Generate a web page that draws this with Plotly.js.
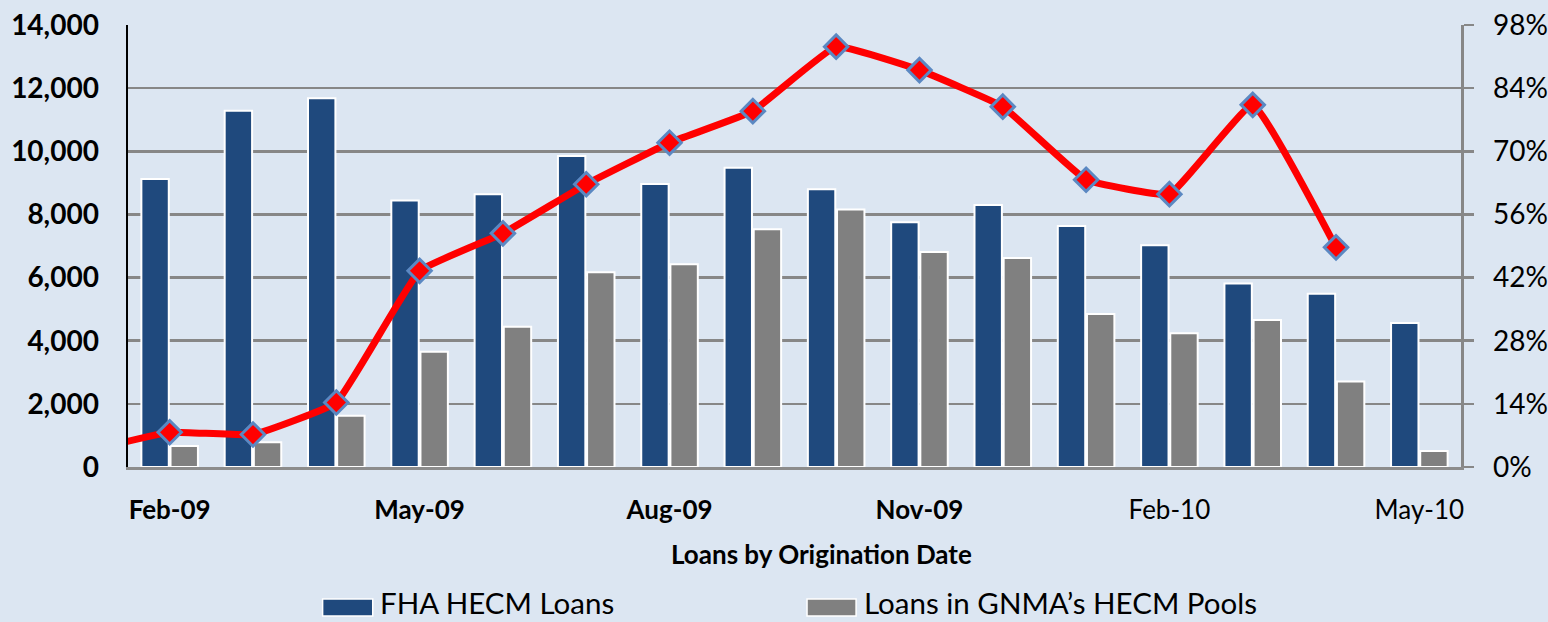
<!DOCTYPE html>
<html>
<head>
<meta charset="utf-8">
<script src="https://cdn.plot.ly/plotly-3.0.1.min.js"></script>
<style>
  html, body { margin: 0; padding: 0; background: #dce6f2; }
  #chart { width: 1548px; height: 622px; }
</style>
</head>
<body>
<div id="chart"></div>
<script>
// ---- data ----
var months = ['Feb-09','Mar-09','Apr-09','May-09','Jun-09','Jul-09','Aug-09','Sep-09',
              'Oct-09','Nov-09','Dec-09','Jan-10','Feb-10','Mar-10','Apr-10','May-10'];
var fhaLoans  = [9120, 11280, 11680, 8440, 8640, 9850, 8960, 9480,
                 8800, 7750, 8300, 7630, 7025, 5810, 5490, 4560];
var gnmaPools = [665, 780, 1625, 3650, 4440, 6170, 6420, 7530,
                 8160, 6810, 6620, 4850, 4240, 4660, 2710, 510];
// share of loans pooled (%), last month not reported
var pooledPct = [7.7, 7.2, 14.3, 43.5, 51.8, 62.7, 71.9, 78.9,
                 93.2, 88.0, 79.9, 63.7, 60.5, 80.3, 48.7, null];
// preceding month (outside the visible range) that the line comes in from
var priorMonth = 'Jan-09';
var priorPct = 3.5;
var tickLabels = ['Feb-09','May-09','Aug-09','Nov-09','Feb-10','May-10'];
var seriesNames = ['FHA HECM Loans', 'Loans in GNMA\u2019s HECM Pools', 'Share pooled'];
var leftTicks = [0, 2000, 4000, 6000, 8000, 10000, 12000, 14000];
var rightTicks = [0, 14, 28, 42, 56, 70, 84, 98];

// ---- styles ----
var tickBold = [true, true, true, true, false, false];
var FONT = 'Lato, "Open Sans", sans-serif';
var BG = '#dce6f2';
var GRID = '#878787';

var idx = months.map(function (m, i) { return i; });
var lineX = [-1].concat(idx);
var lineY = [priorPct].concat(pooledPct);
var lineText = [priorMonth].concat(months);

var traces = [
  {
    type: 'bar', name: seriesNames[0], x: idx, y: fhaLoans, text: months,
    hovertemplate: '%{text}: %{y:,}<extra></extra>', textposition: 'none',
    marker: { color: '#1f497d', line: { color: '#ffffff', width: 2 } }
  },
  {
    type: 'bar', name: seriesNames[1], x: idx, y: gnmaPools, text: months,
    hovertemplate: '%{text}: %{y:,}<extra></extra>', textposition: 'none',
    marker: { color: '#808080', line: { color: '#ffffff', width: 2 } }
  },
  {
    type: 'scatter', mode: 'lines+markers', name: seriesNames[2],
    x: lineX, y: lineY, text: lineText, yaxis: 'y2',
    hovertemplate: '%{text}: %{y}%<extra></extra>',
    line: { color: '#ff0000', width: 7, shape: 'spline', smoothing: 0.3 },
    marker: { symbol: 'diamond', size: 18, color: '#ff0000',
              line: { color: '#5b88c2', width: 3 } },
    connectgaps: false
  }
];

var tickvals = tickLabels.map(function (t) { return months.indexOf(t); });
var ticktext = tickLabels.map(function (t, i) { return tickBold[i] ? '<b>' + t + '</b>' : t; });
var rightText = rightTicks.map(function (v) { return v + '%'; });

var legendShapes = [];
var legendAnns = [];
var legendItems = [
  { name: seriesNames[0], color: '#1f497d', x0: 0.146, x1: 0.1836, tx: 0.1875 },
  { name: seriesNames[1], color: '#808080', x0: 0.5094, x1: 0.5462, tx: 0.5505 }
];
legendItems.forEach(function (it) {
  legendShapes.push({
    type: 'rect', xref: 'paper', yref: 'paper', x0: it.x0, x1: it.x1, y0: -0.337, y1: -0.2986,
    fillcolor: it.color, line: { color: '#ffffff', width: 1.5 }
  });
  legendAnns.push({
    xref: 'paper', yref: 'paper', x: it.tx, y: -0.3507, xanchor: 'left', yanchor: 'bottom',
    text: it.name, showarrow: false, font: { family: FONT, size: 29.5, color: '#000000' }
  });
});

var layout = {
  width: 1548, height: 622,
  margin: { l: 128, r: 87, t: 25, b: 155, pad: 0 },
  paper_bgcolor: BG, plot_bgcolor: BG,
  showlegend: false,
  barmode: 'group', bargap: 0.3, bargroupgap: 0.06,
  font: { family: FONT, color: '#000000' },
  xaxis: {
    range: [-0.5, 15.5], tickmode: 'array', tickvals: tickvals, ticktext: ticktext,
    showgrid: false, zeroline: false, showline: true, linecolor: '#8c8c8c', linewidth: 3,
    ticks: 'outside', ticklen: 18, tickcolor: 'rgba(0,0,0,0)',
    tickfont: { family: FONT, size: 26, color: '#000000' }
  },
  yaxis: {
    range: [0, 14000], tickmode: 'array', tickvals: leftTicks,
    tickformat: ',d', showgrid: true, gridcolor: GRID, gridwidth: 2.5,
    zeroline: false, showline: true, linecolor: '#000000', linewidth: 2.5,
    ticks: 'outside', ticklen: 21, tickcolor: 'rgba(0,0,0,0)',
    tickfont: { family: FONT, size: 28, color: '#000000', weight: 'bold' }
  },
  yaxis2: {
    overlaying: 'y', side: 'right', range: [0, 98], tickmode: 'array', tickvals: rightTicks,
    ticktext: rightText, showgrid: false, zeroline: false,
    showline: true, linecolor: GRID, linewidth: 2.5,
    ticks: 'outside', ticklen: 10, tickwidth: 2.5, tickcolor: GRID,
    ticklabelstandoff: 14,
    tickfont: { family: FONT, size: 28, color: '#000000' }
  },
  shapes: legendShapes,
  annotations: [
    {
      xref: 'paper', yref: 'paper', x: 0.5206, y: -0.197, xanchor: 'center', yanchor: 'middle',
      text: '<b>Loans by Origination Date</b>', showarrow: false,
      font: { family: FONT, size: 26, color: '#000000' }
    }
  ].concat(legendAnns)
};

Plotly.newPlot('chart', traces, layout, { displayModeBar: false, staticPlot: true });
</script>
</body>
</html>
